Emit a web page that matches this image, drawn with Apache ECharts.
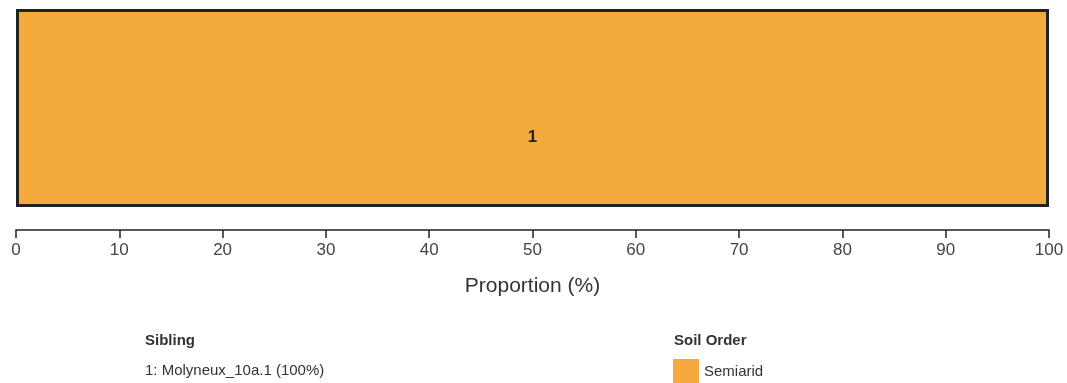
<!DOCTYPE html>
<html>
<head>
<meta charset="utf-8">
<style>
    html, body { margin: 0; padding: 0; background: #fff; }
    #chart { width: 1067px; height: 383px; }
</style>
<script src="https://cdn.jsdelivr.net/npm/echarts@6/dist/echarts.min.js"></script>
</head>
<body>
<div id="chart"></div>
<script>
    // data
    var siblings = ['1'];
    var siblingNames = ['1: Molyneux_10a.1 (100%)'];
    var soilOrders = ['Semiarid'];
    var proportions = [100];
    var ticks = [0, 10, 20, 30, 40, 50, 60, 70, 80, 90, 100];

    var myChart = echarts.init(document.getElementById('chart'));
    myChart.setOption({
        animation: false,
        textStyle: { fontFamily: 'Liberation Sans, Arial, sans-serif' },
        grid: { left: 16, right: 18, top: 9, height: 198 },
        xAxis: {
            type: 'value',
            min: ticks[0],
            max: ticks[ticks.length - 1],
            interval: 10,
            offset: 23,
            splitLine: { show: false },
            axisLine: { show: true, lineStyle: { color: '#222', width: 1.5 } },
            axisTick: { show: true, length: 8, lineStyle: { color: '#222', width: 1.5 } },
            axisLabel: { color: '#444', fontSize: 17, margin: 12 },
            name: 'Proportion (%)',
            nameLocation: 'middle',
            nameGap: 46,
            nameTextStyle: { color: '#333', fontSize: 21 }
        },
        yAxis: {
            type: 'category',
            data: siblings,
            show: false
        },
        legend: {
            data: soilOrders,
            left: 673,
            top: 359,
            padding: 0,
            orient: 'vertical',
            icon: 'rect',
            itemWidth: 26,
            itemHeight: 25,
            itemGap: 6,
            itemStyle: { borderWidth: 0 },
            textStyle: { color: '#333', fontSize: 15 }
        },
        graphic: [
            { type: 'text', left: 145, top: 333, style: { text: 'Sibling', fontSize: 15, fontWeight: 'bold', fill: '#333', fontFamily: 'Liberation Sans, Arial, sans-serif' } },
            { type: 'text', left: 145, top: 363, style: { text: siblingNames.join('\n'), fontSize: 15, fill: '#333', fontFamily: 'Liberation Sans, Arial, sans-serif' } },
            { type: 'text', left: 674, top: 333, style: { text: 'Soil Order', fontSize: 15, fontWeight: 'bold', fill: '#333', fontFamily: 'Liberation Sans, Arial, sans-serif' } }
        ],
        series: [
            {
                type: 'bar',
                name: soilOrders[0],
                data: proportions,
                barWidth: '100%',
                itemStyle: { color: '#F5AA3E', borderColor: '#222', borderWidth: 3 },
                label: {
                    show: true,
                    position: 'inside',
                    offset: [0, 29],
                    formatter: function (p) { return siblings[p.dataIndex]; },
                    color: '#222',
                    fontSize: 17,
                    fontWeight: 'bold'
                }
            }
        ]
    });
</script>
</body>
</html>
